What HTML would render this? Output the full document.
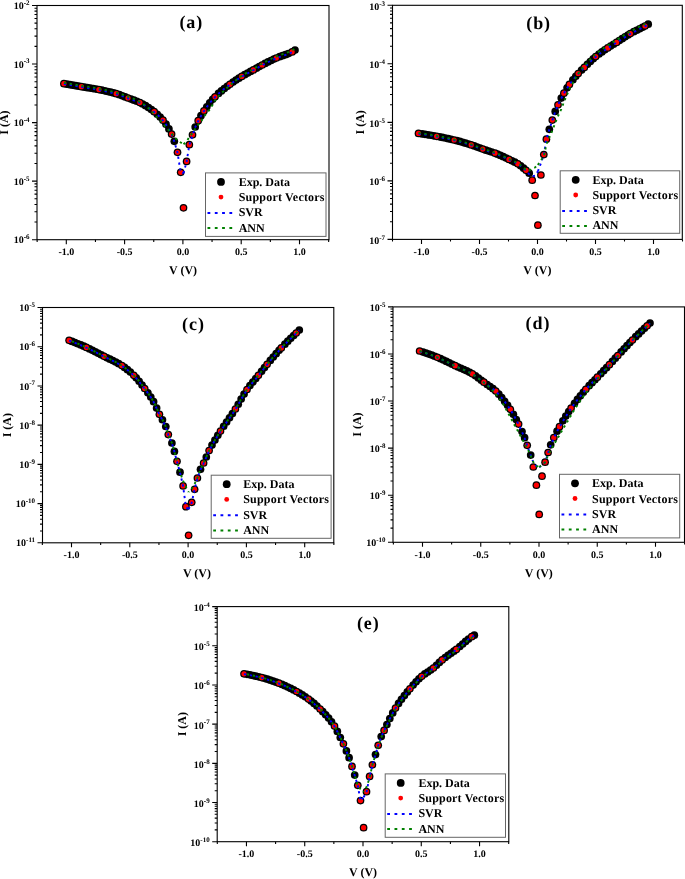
<!DOCTYPE html>
<html><head><meta charset="utf-8"><style>
html,body{margin:0;padding:0;background:#fff;}
svg{display:block;will-change:transform;}
text{font-family:"Liberation Serif", serif;font-weight:bold;fill:#000;text-rendering:geometricPrecision;}
</style></head><body>
<svg width="685" height="879" viewBox="0 0 685 879">
<rect width="685" height="879" fill="#fff"/>
<g><g fill="#000"><circle cx="63.9" cy="83.7" r="3.85"/><circle cx="66.88" cy="84.22" r="3.85"/><circle cx="69.8" cy="84.72" r="3.85"/><circle cx="72.71" cy="85.22" r="3.85"/><circle cx="75.63" cy="85.72" r="3.85"/><circle cx="78.54" cy="86.22" r="3.85"/><circle cx="81.4" cy="86.7" r="3.85"/><circle cx="84.37" cy="87.19" r="3.85"/><circle cx="87.29" cy="87.64" r="3.85"/><circle cx="90.2" cy="88.1" r="3.85"/><circle cx="93.12" cy="88.57" r="3.85"/><circle cx="96.03" cy="89.07" r="3.85"/><circle cx="98.9" cy="89.6" r="3.85"/><circle cx="101.86" cy="90.19" r="3.85"/><circle cx="104.78" cy="90.81" r="3.85"/><circle cx="107.69" cy="91.48" r="3.85"/><circle cx="110.61" cy="92.18" r="3.85"/><circle cx="113.52" cy="92.95" r="3.85"/><circle cx="116.2" cy="93.7" r="3.85"/><circle cx="119.35" cy="94.72" r="3.85"/><circle cx="122.27" cy="95.79" r="3.85"/><circle cx="125.18" cy="96.92" r="3.85"/><circle cx="128" cy="98" r="3.85"/><circle cx="131.01" cy="99.09" r="3.85"/><circle cx="133.93" cy="100.14" r="3.85"/><circle cx="136.84" cy="101.26" r="3.85"/><circle cx="139.9" cy="102.6" r="3.85"/><circle cx="142.67" cy="104.02" r="3.85"/><circle cx="145.59" cy="105.7" r="3.85"/><circle cx="148.5" cy="107.56" r="3.85"/><circle cx="151.42" cy="109.6" r="3.85"/><circle cx="154.2" cy="111.7" r="3.85"/><circle cx="157.25" cy="114.23" r="3.85"/><circle cx="160.16" cy="117.03" r="3.85"/><circle cx="163" cy="120.2" r="3.85"/><circle cx="165.99" cy="124.19" r="3.85"/><circle cx="168.91" cy="128.9" r="3.85"/><circle cx="171.6" cy="134.1" r="3.85"/><circle cx="174.3" cy="141.3" r="3.85"/><circle cx="177.5" cy="152.3" r="3.85"/><circle cx="180.7" cy="172.3" r="3.85"/><circle cx="183.5" cy="207.8" r="3.85"/><circle cx="186.6" cy="161.4" r="3.85"/><circle cx="189.3" cy="144.7" r="3.85"/><circle cx="192.5" cy="134.8" r="3.85"/><circle cx="195.2" cy="127" r="3.85"/><circle cx="198.2" cy="120.7" r="3.85"/><circle cx="200.97" cy="115.63" r="3.85"/><circle cx="203.9" cy="110.9" r="3.85"/><circle cx="206.8" cy="106.73" r="3.85"/><circle cx="209.72" cy="102.86" r="3.85"/><circle cx="212.63" cy="99.36" r="3.85"/><circle cx="215" cy="96.8" r="3.85"/><circle cx="218.46" cy="93.46" r="3.85"/><circle cx="221.38" cy="90.92" r="3.85"/><circle cx="224.29" cy="88.55" r="3.85"/><circle cx="227.21" cy="86.31" r="3.85"/><circle cx="229.9" cy="84.3" r="3.85"/><circle cx="233.04" cy="82.04" r="3.85"/><circle cx="235.95" cy="80.05" r="3.85"/><circle cx="238.87" cy="78.16" r="3.85"/><circle cx="241.7" cy="76.4" r="3.85"/><circle cx="244.7" cy="74.65" r="3.85"/><circle cx="247.61" cy="73.05" r="3.85"/><circle cx="250.53" cy="71.47" r="3.85"/><circle cx="253.4" cy="69.9" r="3.85"/><circle cx="256.36" cy="68.22" r="3.85"/><circle cx="259.27" cy="66.55" r="3.85"/><circle cx="262.1" cy="65" r="3.85"/><circle cx="265.1" cy="63.42" r="3.85"/><circle cx="268.02" cy="61.93" r="3.85"/><circle cx="270.93" cy="60.48" r="3.85"/><circle cx="273.85" cy="59.1" r="3.85"/><circle cx="276.3" cy="58" r="3.85"/><circle cx="279.68" cy="56.66" r="3.85"/><circle cx="282.59" cy="55.64" r="3.85"/><circle cx="285.51" cy="54.63" r="3.85"/><circle cx="288.42" cy="53.54" r="3.85"/><circle cx="292.1" cy="51.9" r="3.85"/><circle cx="295" cy="50.1" r="3.85"/></g>
<g fill="#f00"><circle cx="63.9" cy="83.7" r="2.6"/><circle cx="81.4" cy="86.7" r="2.6"/><circle cx="98.9" cy="89.6" r="2.6"/><circle cx="116.2" cy="93.7" r="2.6"/><circle cx="128" cy="98" r="2.6"/><circle cx="139.9" cy="102.6" r="2.6"/><circle cx="154.2" cy="111.7" r="2.6"/><circle cx="163" cy="120.2" r="2.6"/><circle cx="171.6" cy="134.1" r="2.6"/><circle cx="177.5" cy="152.3" r="2.6"/><circle cx="180.7" cy="172.3" r="2.6"/><circle cx="183.5" cy="207.8" r="2.6"/><circle cx="186.6" cy="161.4" r="2.6"/><circle cx="189.3" cy="144.7" r="2.6"/><circle cx="192.5" cy="134.8" r="2.6"/><circle cx="198.2" cy="120.7" r="2.6"/><circle cx="203.9" cy="110.9" r="2.6"/><circle cx="215" cy="96.8" r="2.6"/><circle cx="229.9" cy="84.3" r="2.6"/><circle cx="241.7" cy="76.4" r="2.6"/><circle cx="253.4" cy="69.9" r="2.6"/><circle cx="262.1" cy="65" r="2.6"/><circle cx="276.3" cy="58" r="2.6"/><circle cx="292.1" cy="51.9" r="2.6"/></g>
<path d="M63.9 84 L66.88 84.52 L69.8 85.02 L72.71 85.52 L75.63 86.02 L78.54 86.52 L81.4 87 L84.37 87.49 L87.29 87.94 L90.2 88.4 L93.12 88.87 L96.03 89.37 L98.9 89.9 L101.86 90.49 L104.78 91.11 L107.69 91.78 L110.61 92.48 L113.52 93.25 L116.2 94 L119.35 95.02 L122.27 96.09 L125.18 97.22 L128 98.3 L131.01 99.39 L133.93 100.44 L136.84 101.56 L139.9 102.9 L142.67 104.32 L145.59 106 L148.5 107.86 L151.42 109.9 L154.2 112 L157.25 114.53 L160.16 117.33 L163 120.5 L165.99 124.49 L168.91 129.2 L171.6 134.4 L174.3 141.6 L177.5 152.6 L180.7 172.6 L183.5 173.3" fill="none" stroke="#00f" stroke-width="1.9" stroke-dasharray="2.3 3.6" stroke-dashoffset="0"/>
<path d="M183.5 173.3 L186.6 161.7 L189.3 145 L192.5 135.1 L195.2 127.3 L198.2 121 L200.97 115.93 L203.9 111.2 L206.8 107.03 L209.72 103.16 L212.63 99.66 L215 97.1 L218.46 93.76 L221.38 91.22 L224.29 88.85 L227.21 86.61 L229.9 84.6 L233.04 82.34 L235.95 80.35 L238.87 78.46 L241.7 76.7 L244.7 74.95 L247.61 73.35 L250.53 71.77 L253.4 70.2 L256.36 68.52 L259.27 66.85 L262.1 65.3 L265.1 63.72 L268.02 62.23 L270.93 60.78 L273.85 59.4 L276.3 58.3 L279.68 56.96 L282.59 55.94 L285.51 54.93 L288.42 53.84 L292.1 52.2 L295 50.4" fill="none" stroke="#00f" stroke-width="1.9" stroke-dasharray="2.3 3.6" stroke-dashoffset="0"/>
<path d="M63.9 82.7 L66.88 83.22 L69.8 83.72 L72.71 84.22 L75.63 84.72 L78.54 85.22 L81.4 85.7 L84.37 86.19 L87.29 86.64 L90.2 87.1 L93.12 87.57 L96.03 88.07 L98.9 88.6 L101.86 89.19 L104.78 89.81 L107.69 90.48 L110.61 91.18 L113.52 91.93 L116.2 92.59 L119.35 93.52 L122.27 94.5 L125.18 95.54 L128 96.53 L131.01 97.53 L133.93 98.76 L136.84 100.25 L139.9 101.88 L142.67 103.55 L145.59 105.75 L148.5 108.26 L151.42 111.13 L154.2 114.06 L157.25 117.4 L160.16 120.42 L163 123.64 L165.99 127.36 L168.91 130.45 L171.6 133.5 L174.3 137 L177.5 140.5 L180.7 142.5 L183.5 144.2" fill="none" stroke="#008000" stroke-width="1.9" stroke-dasharray="2.3 3.6" stroke-dashoffset="0"/>
<path d="M183.5 144.2 L186.6 141.5 L189.3 137 L192.5 133 L195.2 128.8 L198.2 124.84 L200.97 121.77 L203.9 116.66 L206.8 113 L209.72 109.58 L212.63 104.66 L215 100.38 L218.46 96.23 L221.38 93.22 L224.29 90.39 L227.21 87.68 L229.9 85.22 L233.04 82.59 L235.95 80.22 L238.87 77.96 L241.7 75.88 L244.7 74 L247.61 72.27 L250.53 70.57 L253.4 68.88 L256.36 67.07 L259.27 65.27 L262.1 63.6 L265.1 61.92 L268.02 60.43 L270.93 58.98 L273.85 57.6 L276.3 56.5 L279.68 55.16 L282.59 54.14 L285.51 53.13 L288.42 52.04 L292.1 50.4 L295 48.6" fill="none" stroke="#008000" stroke-width="1.9" stroke-dasharray="2.3 3.6" stroke-dashoffset="0"/>
<rect x="37" y="5.5" width="292" height="234.2" fill="none" stroke="#000" stroke-width="1.1"/>
<path d="M32 5.5H37M34.5 46.42H37M34.5 36.11H37M34.5 28.8H37M34.5 23.13H37M34.5 18.49H37M34.5 14.57H37M34.5 11.17H37M34.5 8.18H37M32 64.05H37M34.5 104.97H37M34.5 94.66H37M34.5 87.35H37M34.5 81.68H37M34.5 77.04H37M34.5 73.12H37M34.5 69.72H37M34.5 66.73H37M32 122.6H37M34.5 163.52H37M34.5 153.21H37M34.5 145.9H37M34.5 140.23H37M34.5 135.59H37M34.5 131.67H37M34.5 128.27H37M34.5 125.28H37M32 181.15H37M34.5 222.07H37M34.5 211.76H37M34.5 204.45H37M34.5 198.78H37M34.5 194.14H37M34.5 190.22H37M34.5 186.82H37M34.5 183.83H37M32 239.7H37M37.15 239.7V241.9M66.3 239.7V244.2M95.45 239.7V241.9M124.6 239.7V244.2M153.75 239.7V241.9M182.9 239.7V244.2M212.05 239.7V241.9M241.2 239.7V244.2M270.35 239.7V241.9M299.5 239.7V244.2M328.65 239.7V241.9" stroke="#000" stroke-width="1.1" fill="none"/>
<g font-size="10.0"><text x="66.3" y="255.1" text-anchor="middle">-1.0</text><text x="124.6" y="255.1" text-anchor="middle">-0.5</text><text x="182.9" y="255.1" text-anchor="middle">0.0</text><text x="241.2" y="255.1" text-anchor="middle">0.5</text><text x="299.5" y="255.1" text-anchor="middle">1.0</text><text x="29.5" y="9" text-anchor="end">10<tspan font-size="7.0" dy="-4.1">-2</tspan></text><text x="29.5" y="67.55" text-anchor="end">10<tspan font-size="7.0" dy="-4.1">-3</tspan></text><text x="29.5" y="126.1" text-anchor="end">10<tspan font-size="7.0" dy="-4.1">-4</tspan></text><text x="29.5" y="184.65" text-anchor="end">10<tspan font-size="7.0" dy="-4.1">-5</tspan></text><text x="29.5" y="243.2" text-anchor="end">10<tspan font-size="7.0" dy="-4.1">-6</tspan></text></g>
<text x="183" y="274.2" text-anchor="middle" font-size="12">V (V)</text>
<text transform="translate(8.2 122.6) rotate(-90)" text-anchor="middle" font-size="12">I (A)</text>
<text x="190.85" y="27.6" font-size="18" text-anchor="middle">(<tspan dx="0.9">a</tspan><tspan dx="0.9">)</tspan></text>
<g font-size="12"><rect x="205.5" y="172.9" width="120.5" height="63.5" fill="#fff" stroke="#666" stroke-width="1"/><circle cx="221" cy="181.9" r="3.9" fill="#000"/><circle cx="221" cy="197.1" r="2.4" fill="#f00"/><path d="M207.5 213H232.5" stroke="#00f" stroke-width="2" stroke-dasharray="2.8 4.5"/><path d="M207.5 228.1H232.5" stroke="#008000" stroke-width="2" stroke-dasharray="2.8 4.5"/><text x="238.7" y="185.9">Exp. Data</text><text x="238.7" y="201.1" letter-spacing="0.2">Support Vectors</text><text x="238.7" y="216.3">SVR</text><text x="238.7" y="231.5">ANN</text></g></g>
<g><g fill="#000"><circle cx="418.5" cy="133.4" r="3.85"/><circle cx="422.08" cy="133.9" r="3.85"/><circle cx="424.98" cy="134.34" r="3.85"/><circle cx="427.88" cy="134.79" r="3.85"/><circle cx="430.78" cy="135.27" r="3.85"/><circle cx="433.68" cy="135.78" r="3.85"/><circle cx="436.6" cy="136.3" r="3.85"/><circle cx="439.48" cy="136.84" r="3.85"/><circle cx="442.38" cy="137.41" r="3.85"/><circle cx="445.28" cy="138" r="3.85"/><circle cx="448.18" cy="138.63" r="3.85"/><circle cx="451.08" cy="139.28" r="3.85"/><circle cx="454.1" cy="140" r="3.85"/><circle cx="456.88" cy="140.7" r="3.85"/><circle cx="459.78" cy="141.47" r="3.85"/><circle cx="462.68" cy="142.29" r="3.85"/><circle cx="465.58" cy="143.15" r="3.85"/><circle cx="468.48" cy="144.04" r="3.85"/><circle cx="471.2" cy="144.9" r="3.85"/><circle cx="474.28" cy="145.96" r="3.85"/><circle cx="477.18" cy="147.03" r="3.85"/><circle cx="480.08" cy="148.12" r="3.85"/><circle cx="482.8" cy="149.1" r="3.85"/><circle cx="485.88" cy="150.13" r="3.85"/><circle cx="488.78" cy="151.06" r="3.85"/><circle cx="491.68" cy="152.01" r="3.85"/><circle cx="495" cy="153.2" r="3.85"/><circle cx="497.48" cy="154.18" r="3.85"/><circle cx="500.38" cy="155.42" r="3.85"/><circle cx="503.28" cy="156.72" r="3.85"/><circle cx="506.18" cy="158.07" r="3.85"/><circle cx="509" cy="159.4" r="3.85"/><circle cx="511.98" cy="160.78" r="3.85"/><circle cx="514.88" cy="162.18" r="3.85"/><circle cx="517.8" cy="163.8" r="3.85"/><circle cx="520.68" cy="165.79" r="3.85"/><circle cx="523.58" cy="168.14" r="3.85"/><circle cx="526.1" cy="170.3" r="3.85"/><circle cx="529.2" cy="173.2" r="3.85"/><circle cx="532.2" cy="180.2" r="3.85"/><circle cx="535" cy="195.5" r="3.85"/><circle cx="537.9" cy="225.2" r="3.85"/><circle cx="540.9" cy="175" r="3.85"/><circle cx="543.8" cy="154.6" r="3.85"/><circle cx="546.4" cy="139.2" r="3.85"/><circle cx="549.3" cy="129.3" r="3.85"/><circle cx="552.3" cy="120.1" r="3.85"/><circle cx="555.2" cy="111.4" r="3.85"/><circle cx="558" cy="104.8" r="3.85"/><circle cx="561.28" cy="98.06" r="3.85"/><circle cx="563.9" cy="93.2" r="3.85"/><circle cx="567.08" cy="87.87" r="3.85"/><circle cx="569.4" cy="84.4" r="3.85"/><circle cx="572.88" cy="79.76" r="3.85"/><circle cx="575.78" cy="76.24" r="3.85"/><circle cx="578.2" cy="73.5" r="3.85"/><circle cx="581.58" cy="70.03" r="3.85"/><circle cx="584.3" cy="67.4" r="3.85"/><circle cx="587.38" cy="64.36" r="3.85"/><circle cx="590.28" cy="61.51" r="3.85"/><circle cx="593.18" cy="58.78" r="3.85"/><circle cx="595.7" cy="56.6" r="3.85"/><circle cx="598.98" cy="54.02" r="3.85"/><circle cx="601.88" cy="51.89" r="3.85"/><circle cx="604.78" cy="49.87" r="3.85"/><circle cx="607.7" cy="47.9" r="3.85"/><circle cx="610.58" cy="46.05" r="3.85"/><circle cx="613.48" cy="44.27" r="3.85"/><circle cx="616.5" cy="42.4" r="3.85"/><circle cx="619.28" cy="40.61" r="3.85"/><circle cx="622.18" cy="38.7" r="3.85"/><circle cx="625.08" cy="36.8" r="3.85"/><circle cx="627.98" cy="34.98" r="3.85"/><circle cx="630.3" cy="33.6" r="3.85"/><circle cx="633.78" cy="31.71" r="3.85"/><circle cx="636.68" cy="30.23" r="3.85"/><circle cx="639.58" cy="28.79" r="3.85"/><circle cx="642.48" cy="27.33" r="3.85"/><circle cx="645" cy="26" r="3.85"/><circle cx="648.2" cy="24.2" r="3.85"/></g>
<g fill="#f00"><circle cx="418.5" cy="133.4" r="2.6"/><circle cx="436.6" cy="136.3" r="2.6"/><circle cx="454.1" cy="140" r="2.6"/><circle cx="471.2" cy="144.9" r="2.6"/><circle cx="482.8" cy="149.1" r="2.6"/><circle cx="495" cy="153.2" r="2.6"/><circle cx="509" cy="159.4" r="2.6"/><circle cx="517.8" cy="163.8" r="2.6"/><circle cx="526.1" cy="170.3" r="2.6"/><circle cx="532.2" cy="180.2" r="2.6"/><circle cx="535" cy="195.5" r="2.6"/><circle cx="537.9" cy="225.2" r="2.6"/><circle cx="540.9" cy="175" r="2.6"/><circle cx="543.8" cy="154.6" r="2.6"/><circle cx="546.4" cy="139.2" r="2.6"/><circle cx="552.3" cy="120.1" r="2.6"/><circle cx="558" cy="104.8" r="2.6"/><circle cx="563.9" cy="93.2" r="2.6"/><circle cx="569.4" cy="84.4" r="2.6"/><circle cx="578.2" cy="73.5" r="2.6"/><circle cx="584.3" cy="67.4" r="2.6"/><circle cx="595.7" cy="56.6" r="2.6"/><circle cx="607.7" cy="47.9" r="2.6"/><circle cx="616.5" cy="42.4" r="2.6"/><circle cx="630.3" cy="33.6" r="2.6"/><circle cx="645" cy="26" r="2.6"/></g>
<path d="M418.5 133.7 L422.08 134.2 L424.98 134.64 L427.88 135.09 L430.78 135.57 L433.68 136.08 L436.6 136.6 L439.48 137.14 L442.38 137.71 L445.28 138.3 L448.18 138.93 L451.08 139.58 L454.1 140.3 L456.88 141 L459.78 141.77 L462.68 142.59 L465.58 143.45 L468.48 144.34 L471.2 145.2 L474.28 146.26 L477.18 147.33 L480.08 148.42 L482.8 149.4 L485.88 150.43 L488.78 151.36 L491.68 152.31 L495 153.5 L497.48 154.48 L500.38 155.72 L503.28 157.02 L506.18 158.37 L509 159.7 L511.98 161.08 L514.88 162.48 L517.8 164.1 L520.68 166.09 L523.58 168.44 L526.1 170.6 L529.2 174.3 L532.2 176.3 L535 175.8 L537.9 171.3" fill="none" stroke="#00f" stroke-width="1.9" stroke-dasharray="2.3 3.6" stroke-dashoffset="0"/>
<path d="M537.9 171.3 L540.9 163.3 L543.8 154.9 L546.4 139.5 L549.3 129.6 L552.3 120.4 L555.2 111.7 L558 105.1 L561.28 98.36 L563.9 93.5 L567.08 88.17 L569.4 84.7 L572.88 80.06 L575.78 76.54 L578.2 73.8 L581.58 70.33 L584.3 67.7 L587.38 64.66 L590.28 61.81 L593.18 59.08 L595.7 56.9 L598.98 54.32 L601.88 52.19 L604.78 50.17 L607.7 48.2 L610.58 46.35 L613.48 44.57 L616.5 42.7 L619.28 40.91 L622.18 39 L625.08 37.1 L627.98 35.28 L630.3 33.9 L633.78 32.01 L636.68 30.53 L639.58 29.09 L642.48 27.63 L645 26.3 L648.2 24.5" fill="none" stroke="#00f" stroke-width="1.9" stroke-dasharray="2.3 3.6" stroke-dashoffset="0"/>
<path d="M418.5 132.9 L422.08 133.4 L424.98 133.84 L427.88 134.29 L430.78 134.77 L433.68 135.28 L436.6 135.8 L439.48 136.34 L442.38 136.91 L445.28 137.5 L448.18 138.13 L451.08 138.78 L454.1 139.5 L456.88 140.2 L459.78 140.97 L462.68 141.79 L465.58 142.65 L468.48 143.54 L471.2 144.4 L474.28 145.46 L477.18 146.53 L480.08 147.62 L482.8 148.6 L485.88 149.63 L488.78 150.56 L491.68 151.51 L495 152.7 L497.48 153.68 L500.38 154.92 L503.28 156.22 L506.18 157.57 L509 158.9 L511.98 160.28 L514.88 161.68 L517.8 163.3 L520.68 165.29 L523.58 167.64 L526.1 169.85 L529.2 170.5 L532.2 168.5 L535 167.5 L537.9 165" fill="none" stroke="#008000" stroke-width="1.9" stroke-dasharray="2.3 3.6" stroke-dashoffset="0"/>
<path d="M537.9 165 L540.9 160 L543.8 157.1 L546.4 144.2 L549.3 137.7 L552.3 130.67 L555.2 122.91 L558 116.22 L561.28 109.13 L563.9 102.2 L567.08 94.54 L569.4 88.89 L572.88 82.69 L575.78 77.74 L578.2 73.75 L581.58 69.28 L584.3 65.85 L587.38 62.56 L590.28 59.46 L593.18 56.48 L595.7 54.11 L598.98 51.55 L601.88 49.45 L604.78 47.46 L607.7 45.51 L610.58 43.69 L613.48 41.93 L616.5 40.1 L619.28 38.33 L622.18 36.45 L625.08 34.58 L627.98 32.78 L630.3 31.43 L633.78 29.57 L636.68 28.12 L639.58 26.7 L642.48 25.27 L645 23.97 L648.2 22.19" fill="none" stroke="#008000" stroke-width="1.9" stroke-dasharray="2.3 3.6" stroke-dashoffset="0"/>
<rect x="392.5" y="5.3" width="289.8" height="234.1" fill="none" stroke="#000" stroke-width="1.1"/>
<path d="M387.5 5.3H392.5M390 46.21H392.5M390 35.9H392.5M390 28.59H392.5M390 22.92H392.5M390 18.28H392.5M390 14.37H392.5M390 10.97H392.5M390 7.98H392.5M387.5 63.82H392.5M390 104.73H392.5M390 94.43H392.5M390 87.11H392.5M390 81.44H392.5M390 76.81H392.5M390 72.89H392.5M390 69.5H392.5M390 66.5H392.5M387.5 122.35H392.5M390 163.26H392.5M390 152.95H392.5M390 145.64H392.5M390 139.97H392.5M390 135.33H392.5M390 131.42H392.5M390 128.02H392.5M390 125.03H392.5M387.5 180.88H392.5M390 221.78H392.5M390 211.48H392.5M390 204.16H392.5M390 198.49H392.5M390 193.86H392.5M390 189.94H392.5M390 186.55H392.5M390 183.55H392.5M387.5 239.4H392.5M392.5 239.4V241.6M421.5 239.4V243.9M450.5 239.4V241.6M479.5 239.4V243.9M508.5 239.4V241.6M537.5 239.4V243.9M566.5 239.4V241.6M595.5 239.4V243.9M624.5 239.4V241.6M653.5 239.4V243.9M682.5 239.4V241.6" stroke="#000" stroke-width="1.1" fill="none"/>
<g font-size="10.0"><text x="421.5" y="254.8" text-anchor="middle">-1.0</text><text x="479.5" y="254.8" text-anchor="middle">-0.5</text><text x="537.5" y="254.8" text-anchor="middle">0.0</text><text x="595.5" y="254.8" text-anchor="middle">0.5</text><text x="653.5" y="254.8" text-anchor="middle">1.0</text><text x="385" y="9.6" text-anchor="end">10<tspan font-size="7.0" dy="-4.1">-3</tspan></text><text x="385" y="68.12" text-anchor="end">10<tspan font-size="7.0" dy="-4.1">-4</tspan></text><text x="385" y="126.65" text-anchor="end">10<tspan font-size="7.0" dy="-4.1">-5</tspan></text><text x="385" y="185.18" text-anchor="end">10<tspan font-size="7.0" dy="-4.1">-6</tspan></text><text x="385" y="243.7" text-anchor="end">10<tspan font-size="7.0" dy="-4.1">-7</tspan></text></g>
<text x="537.4" y="273.9" text-anchor="middle" font-size="12">V (V)</text>
<text transform="translate(364.3 122.35) rotate(-90)" text-anchor="middle" font-size="12">I (A)</text>
<text x="538.2" y="29" font-size="18" text-anchor="middle">(<tspan dx="0.9">b</tspan><tspan dx="0.9">)</tspan></text>
<g font-size="12"><rect x="560.2" y="170.8" width="119.5" height="62.5" fill="#fff" stroke="#666" stroke-width="1"/><circle cx="575.7" cy="179.8" r="3.9" fill="#000"/><circle cx="575.7" cy="195" r="2.4" fill="#f00"/><path d="M562.2 210.9H587.2" stroke="#00f" stroke-width="2" stroke-dasharray="2.8 4.5"/><path d="M562.2 226H587.2" stroke="#008000" stroke-width="2" stroke-dasharray="2.8 4.5"/><text x="592.4" y="183.8">Exp. Data</text><text x="592.4" y="199" letter-spacing="0.2">Support Vectors</text><text x="592.4" y="214.2">SVR</text><text x="592.4" y="229.4">ANN</text></g></g>
<g><g fill="#000"><circle cx="69.1" cy="340.3" r="3.85"/><circle cx="72.08" cy="341.41" r="3.85"/><circle cx="75" cy="342.55" r="3.85"/><circle cx="77.91" cy="343.73" r="3.85"/><circle cx="80.83" cy="344.95" r="3.85"/><circle cx="83.74" cy="346.22" r="3.85"/><circle cx="86.4" cy="347.4" r="3.85"/><circle cx="89.57" cy="348.88" r="3.85"/><circle cx="92.49" cy="350.31" r="3.85"/><circle cx="95.4" cy="351.79" r="3.85"/><circle cx="98.32" cy="353.3" r="3.85"/><circle cx="101.23" cy="354.82" r="3.85"/><circle cx="104.1" cy="356.3" r="3.85"/><circle cx="107.06" cy="357.78" r="3.85"/><circle cx="109.98" cy="359.18" r="3.85"/><circle cx="112.89" cy="360.6" r="3.85"/><circle cx="115.81" cy="362.08" r="3.85"/><circle cx="118.72" cy="363.67" r="3.85"/><circle cx="121.9" cy="365.6" r="3.85"/><circle cx="124.55" cy="367.42" r="3.85"/><circle cx="127.47" cy="369.65" r="3.85"/><circle cx="130.38" cy="372.12" r="3.85"/><circle cx="133.8" cy="375.3" r="3.85"/><circle cx="136.21" cy="377.83" r="3.85"/><circle cx="139.13" cy="381.26" r="3.85"/><circle cx="142.04" cy="384.98" r="3.85"/><circle cx="144.7" cy="388.5" r="3.85"/><circle cx="147.87" cy="392.79" r="3.85"/><circle cx="150.79" cy="397.04" r="3.85"/><circle cx="153.6" cy="401.7" r="3.85"/><circle cx="156.62" cy="408.09" r="3.85"/><circle cx="159.4" cy="414.3" r="3.85"/><circle cx="162.45" cy="419.77" r="3.85"/><circle cx="165.8" cy="426.5" r="3.85"/><circle cx="168.3" cy="434.6" r="3.85"/><circle cx="171.9" cy="443" r="3.85"/><circle cx="174.4" cy="451.4" r="3.85"/><circle cx="177" cy="461.3" r="3.85"/><circle cx="180" cy="472.2" r="3.85"/><circle cx="183.1" cy="485.9" r="3.85"/><circle cx="185.9" cy="506.7" r="3.85"/><circle cx="188.6" cy="535.3" r="3.85"/><circle cx="191.7" cy="502.3" r="3.85"/><circle cx="194.6" cy="489.3" r="3.85"/><circle cx="197.4" cy="478" r="3.85"/><circle cx="200.5" cy="469.3" r="3.85"/><circle cx="203.6" cy="463" r="3.85"/><circle cx="206.3" cy="457" r="3.85"/><circle cx="209.1" cy="450.6" r="3.85"/><circle cx="212" cy="445.08" r="3.85"/><circle cx="214.92" cy="440.05" r="3.85"/><circle cx="217.83" cy="435.33" r="3.85"/><circle cx="220.5" cy="431.1" r="3.85"/><circle cx="223.66" cy="426.24" r="3.85"/><circle cx="226.58" cy="421.99" r="3.85"/><circle cx="229.49" cy="417.81" r="3.85"/><circle cx="232.41" cy="413.57" r="3.85"/><circle cx="235.4" cy="409" r="3.85"/><circle cx="238.24" cy="404.26" r="3.85"/><circle cx="241.15" cy="399.12" r="3.85"/><circle cx="244.07" cy="394.07" r="3.85"/><circle cx="247" cy="389.5" r="3.85"/><circle cx="249.9" cy="385.6" r="3.85"/><circle cx="252.81" cy="382.02" r="3.85"/><circle cx="255.73" cy="378.55" r="3.85"/><circle cx="258.4" cy="375.3" r="3.85"/><circle cx="261.56" cy="371.28" r="3.85"/><circle cx="264.47" cy="367.56" r="3.85"/><circle cx="267.1" cy="364.3" r="3.85"/><circle cx="270.3" cy="360.45" r="3.85"/><circle cx="273.22" cy="357" r="3.85"/><circle cx="276.13" cy="353.63" r="3.85"/><circle cx="279.05" cy="350.35" r="3.85"/><circle cx="281.3" cy="347.9" r="3.85"/><circle cx="284.88" cy="344.15" r="3.85"/><circle cx="287.79" cy="341.19" r="3.85"/><circle cx="290.71" cy="338.31" r="3.85"/><circle cx="293.62" cy="335.48" r="3.85"/><circle cx="296.2" cy="333" r="3.85"/><circle cx="299.3" cy="330.1" r="3.85"/></g>
<g fill="#f00"><circle cx="69.1" cy="340.3" r="2.6"/><circle cx="86.4" cy="347.4" r="2.6"/><circle cx="104.1" cy="356.3" r="2.6"/><circle cx="121.9" cy="365.6" r="2.6"/><circle cx="133.8" cy="375.3" r="2.6"/><circle cx="144.7" cy="388.5" r="2.6"/><circle cx="159.4" cy="414.3" r="2.6"/><circle cx="168.3" cy="434.6" r="2.6"/><circle cx="177" cy="461.3" r="2.6"/><circle cx="183.1" cy="485.9" r="2.6"/><circle cx="185.9" cy="506.7" r="2.6"/><circle cx="188.6" cy="535.3" r="2.6"/><circle cx="191.7" cy="502.3" r="2.6"/><circle cx="194.6" cy="489.3" r="2.6"/><circle cx="197.4" cy="478" r="2.6"/><circle cx="203.6" cy="463" r="2.6"/><circle cx="209.1" cy="450.6" r="2.6"/><circle cx="220.5" cy="431.1" r="2.6"/><circle cx="235.4" cy="409" r="2.6"/><circle cx="247" cy="389.5" r="2.6"/><circle cx="258.4" cy="375.3" r="2.6"/><circle cx="267.1" cy="364.3" r="2.6"/><circle cx="281.3" cy="347.9" r="2.6"/><circle cx="296.2" cy="333" r="2.6"/></g>
<path d="M69.1 340.6 L72.08 341.71 L75 342.85 L77.91 344.03 L80.83 345.25 L83.74 346.52 L86.4 347.7 L89.57 349.18 L92.49 350.61 L95.4 352.09 L98.32 353.6 L101.23 355.12 L104.1 356.6 L107.06 358.08 L109.98 359.48 L112.89 360.9 L115.81 362.38 L118.72 363.97 L121.9 365.9 L124.55 367.72 L127.47 369.95 L130.38 372.42 L133.8 375.6 L136.21 378.13 L139.13 381.56 L142.04 385.28 L144.7 388.8 L147.87 393.09 L150.79 397.34 L153.6 402 L156.62 408.39 L159.4 414.6 L162.45 420.07 L165.8 426.8 L168.3 434.9 L171.9 443.3 L174.4 451.7 L177 461.6 L180 472.5 L183.1 486.2 L185.9 507 L188.6 509.3" fill="none" stroke="#00f" stroke-width="1.9" stroke-dasharray="2.3 3.6" stroke-dashoffset="0"/>
<path d="M188.6 509.3 L191.7 502.6 L194.6 489.6 L197.4 478.3 L200.5 469.6 L203.6 463.3 L206.3 457.3 L209.1 450.9 L212 445.38 L214.92 440.35 L217.83 435.63 L220.5 431.4 L223.66 426.54 L226.58 422.29 L229.49 418.11 L232.41 413.87 L235.4 409.3 L238.24 404.56 L241.15 399.42 L244.07 394.37 L247 389.8 L249.9 385.9 L252.81 382.32 L255.73 378.85 L258.4 375.6 L261.56 371.58 L264.47 367.86 L267.1 364.6 L270.3 360.75 L273.22 357.3 L276.13 353.93 L279.05 350.65 L281.3 348.2 L284.88 344.45 L287.79 341.49 L290.71 338.61 L293.62 335.78 L296.2 333.3 L299.3 330.4" fill="none" stroke="#00f" stroke-width="1.9" stroke-dasharray="2.3 3.6" stroke-dashoffset="0"/>
<path d="M69.1 340.3 L72.08 341.41 L75 342.55 L77.91 343.73 L80.83 344.95 L83.74 346.22 L86.4 347.4 L89.57 348.88 L92.49 350.31 L95.4 351.79 L98.32 353.3 L101.23 354.82 L104.1 356.3 L107.06 357.78 L109.98 359.18 L112.89 360.6 L115.81 362.08 L118.72 363.67 L121.9 365.6 L124.55 367.42 L127.47 369.65 L130.38 372.12 L133.8 375.3 L136.21 377.83 L139.13 381.26 L142.04 384.98 L144.7 388.5 L147.87 392.79 L150.79 397.04 L153.6 401.7 L156.62 408.09 L159.4 414.3 L162.45 419.77 L165.8 426.5 L168.3 434.6 L171.9 443 L174.4 451.4 L177 461.3 L180 472.2 L183.1 481 L185.9 487 L188.6 492" fill="none" stroke="#008000" stroke-width="1.9" stroke-dasharray="2.3 3.6" stroke-dashoffset="2.95"/>
<path d="M188.6 492 L191.7 489 L194.6 484 L197.4 478 L200.5 469.3 L203.6 463 L206.3 457 L209.1 450.6 L212 445.08 L214.92 440.05 L217.83 435.33 L220.5 431.1 L223.66 426.24 L226.58 421.99 L229.49 417.81 L232.41 413.57 L235.4 409 L238.24 404.26 L241.15 399.12 L244.07 394.07 L247 389.5 L249.9 385.6 L252.81 382.02 L255.73 378.55 L258.4 375.3 L261.56 371.28 L264.47 367.56 L267.1 364.3 L270.3 360.45 L273.22 357 L276.13 353.63 L279.05 350.35 L281.3 347.9 L284.88 344.15 L287.79 341.19 L290.71 338.31 L293.62 335.48 L296.2 333 L299.3 330.1" fill="none" stroke="#008000" stroke-width="1.9" stroke-dasharray="2.3 3.6" stroke-dashoffset="1.8"/>
<rect x="42.5" y="307.5" width="291.3" height="235.3" fill="none" stroke="#000" stroke-width="1.1"/>
<path d="M37.5 307.5H42.5M40 334.91H42.5M40 328.01H42.5M40 323.11H42.5M40 319.31H42.5M40 316.2H42.5M40 313.57H42.5M40 311.3H42.5M40 309.29H42.5M37.5 346.72H42.5M40 374.13H42.5M40 367.22H42.5M40 362.32H42.5M40 358.52H42.5M40 355.42H42.5M40 352.79H42.5M40 350.52H42.5M40 348.51H42.5M37.5 385.93H42.5M40 413.34H42.5M40 406.44H42.5M40 401.54H42.5M40 397.74H42.5M40 394.63H42.5M40 392.01H42.5M40 389.73H42.5M40 387.73H42.5M37.5 425.15H42.5M40 452.56H42.5M40 445.66H42.5M40 440.76H42.5M40 436.96H42.5M40 433.85H42.5M40 431.22H42.5M40 428.95H42.5M40 426.94H42.5M37.5 464.37H42.5M40 491.78H42.5M40 484.87H42.5M40 479.97H42.5M40 476.17H42.5M40 473.07H42.5M40 470.44H42.5M40 468.17H42.5M40 466.16H42.5M37.5 503.58H42.5M40 530.99H42.5M40 524.09H42.5M40 519.19H42.5M40 515.39H42.5M40 512.28H42.5M40 509.66H42.5M40 507.38H42.5M40 505.38H42.5M37.5 542.8H42.5M42.35 542.8V545M71.5 542.8V547.3M100.65 542.8V545M129.8 542.8V547.3M158.95 542.8V545M188.1 542.8V547.3M217.25 542.8V545M246.4 542.8V547.3M275.55 542.8V545M304.7 542.8V547.3M333.85 542.8V545" stroke="#000" stroke-width="1.1" fill="none"/>
<g font-size="10.0"><text x="71.5" y="558.2" text-anchor="middle">-1.0</text><text x="129.8" y="558.2" text-anchor="middle">-0.5</text><text x="188.1" y="558.2" text-anchor="middle">0.0</text><text x="246.4" y="558.2" text-anchor="middle">0.5</text><text x="304.7" y="558.2" text-anchor="middle">1.0</text><text x="35" y="311.1" text-anchor="end">10<tspan font-size="7.0" dy="-4.1">-5</tspan></text><text x="35" y="350.32" text-anchor="end">10<tspan font-size="7.0" dy="-4.1">-6</tspan></text><text x="35" y="389.53" text-anchor="end">10<tspan font-size="7.0" dy="-4.1">-7</tspan></text><text x="35" y="428.75" text-anchor="end">10<tspan font-size="7.0" dy="-4.1">-8</tspan></text><text x="35" y="467.97" text-anchor="end">10<tspan font-size="7.0" dy="-4.1">-9</tspan></text><text x="35" y="507.18" text-anchor="end">10<tspan font-size="7.0" dy="-4.1">-10</tspan></text><text x="35" y="546.4" text-anchor="end">10<tspan font-size="7.0" dy="-4.1">-11</tspan></text></g>
<text x="196.95" y="577.3" text-anchor="middle" font-size="12">V (V)</text>
<text transform="translate(10.7 425.15) rotate(-90)" text-anchor="middle" font-size="12">I (A)</text>
<text x="193" y="329.9" font-size="18" text-anchor="middle">(<tspan dx="0.9">c</tspan><tspan dx="0.9">)</tspan></text>
<g font-size="12"><rect x="211.2" y="475.2" width="119.9" height="63.1" fill="#fff" stroke="#666" stroke-width="1"/><circle cx="226.7" cy="484.2" r="3.9" fill="#000"/><circle cx="226.7" cy="499.4" r="2.4" fill="#f00"/><path d="M213.2 515.3H238.2" stroke="#00f" stroke-width="2" stroke-dasharray="2.8 4.5"/><path d="M213.2 530.4H238.2" stroke="#008000" stroke-width="2" stroke-dasharray="2.8 4.5"/><text x="243.2" y="488.2">Exp. Data</text><text x="243.2" y="503.4" letter-spacing="0.2">Support Vectors</text><text x="243.2" y="518.6">SVR</text><text x="243.2" y="533.8">ANN</text></g></g>
<g><g fill="#000"><circle cx="419.6" cy="351" r="3.85"/><circle cx="423.08" cy="352.07" r="3.85"/><circle cx="426" cy="353.03" r="3.85"/><circle cx="428.91" cy="354.05" r="3.85"/><circle cx="431.82" cy="355.12" r="3.85"/><circle cx="434.73" cy="356.24" r="3.85"/><circle cx="437.4" cy="357.3" r="3.85"/><circle cx="440.56" cy="358.65" r="3.85"/><circle cx="443.47" cy="359.99" r="3.85"/><circle cx="446.38" cy="361.39" r="3.85"/><circle cx="449.3" cy="362.83" r="3.85"/><circle cx="452.21" cy="364.26" r="3.85"/><circle cx="455.2" cy="365.7" r="3.85"/><circle cx="458.03" cy="366.99" r="3.85"/><circle cx="460.94" cy="368.27" r="3.85"/><circle cx="463.86" cy="369.54" r="3.85"/><circle cx="466.77" cy="370.87" r="3.85"/><circle cx="469.68" cy="372.31" r="3.85"/><circle cx="472.4" cy="373.8" r="3.85"/><circle cx="475.51" cy="375.82" r="3.85"/><circle cx="478.42" cy="377.98" r="3.85"/><circle cx="481.33" cy="380.24" r="3.85"/><circle cx="483.9" cy="382.2" r="3.85"/><circle cx="487.16" cy="384.5" r="3.85"/><circle cx="490.07" cy="386.52" r="3.85"/><circle cx="492.98" cy="388.69" r="3.85"/><circle cx="495.8" cy="391.1" r="3.85"/><circle cx="498.81" cy="394.14" r="3.85"/><circle cx="501.72" cy="397.51" r="3.85"/><circle cx="504.63" cy="401.24" r="3.85"/><circle cx="507.55" cy="405.27" r="3.85"/><circle cx="510.3" cy="409.3" r="3.85"/><circle cx="513.37" cy="414.28" r="3.85"/><circle cx="516.28" cy="419.59" r="3.85"/><circle cx="518.6" cy="424.1" r="3.85"/><circle cx="522" cy="431.5" r="3.85"/><circle cx="524.6" cy="437.7" r="3.85"/><circle cx="527.2" cy="445.3" r="3.85"/><circle cx="530.7" cy="455.1" r="3.85"/><circle cx="533.3" cy="467" r="3.85"/><circle cx="536.4" cy="485.2" r="3.85"/><circle cx="539.2" cy="514.4" r="3.85"/><circle cx="542" cy="476.2" r="3.85"/><circle cx="545.1" cy="462.2" r="3.85"/><circle cx="548.1" cy="452.5" r="3.85"/><circle cx="550.7" cy="444.8" r="3.85"/><circle cx="553.8" cy="437.7" r="3.85"/><circle cx="557.06" cy="431.18" r="3.85"/><circle cx="559.5" cy="426.7" r="3.85"/><circle cx="562.88" cy="420.87" r="3.85"/><circle cx="565.79" cy="416.11" r="3.85"/><circle cx="568.71" cy="411.61" r="3.85"/><circle cx="571.1" cy="408.1" r="3.85"/><circle cx="574.53" cy="403.32" r="3.85"/><circle cx="577.45" cy="399.47" r="3.85"/><circle cx="580.36" cy="395.78" r="3.85"/><circle cx="583.27" cy="392.25" r="3.85"/><circle cx="585.8" cy="389.3" r="3.85"/><circle cx="589.1" cy="385.69" r="3.85"/><circle cx="592.01" cy="382.69" r="3.85"/><circle cx="594.92" cy="379.74" r="3.85"/><circle cx="597.4" cy="377.2" r="3.85"/><circle cx="600.75" cy="373.73" r="3.85"/><circle cx="603.66" cy="370.72" r="3.85"/><circle cx="606.57" cy="367.69" r="3.85"/><circle cx="609.4" cy="364.7" r="3.85"/><circle cx="612.39" cy="361.44" r="3.85"/><circle cx="615.31" cy="358.22" r="3.85"/><circle cx="617.8" cy="355.5" r="3.85"/><circle cx="621.13" cy="351.9" r="3.85"/><circle cx="624.04" cy="348.76" r="3.85"/><circle cx="626.96" cy="345.65" r="3.85"/><circle cx="629.87" cy="342.59" r="3.85"/><circle cx="632.4" cy="340" r="3.85"/><circle cx="635.7" cy="336.71" r="3.85"/><circle cx="638.61" cy="333.88" r="3.85"/><circle cx="641.52" cy="331.08" r="3.85"/><circle cx="644.43" cy="328.32" r="3.85"/><circle cx="647.1" cy="325.8" r="3.85"/><circle cx="650" cy="323.1" r="3.85"/></g>
<g fill="#f00"><circle cx="419.6" cy="351" r="2.6"/><circle cx="437.4" cy="357.3" r="2.6"/><circle cx="455.2" cy="365.7" r="2.6"/><circle cx="472.4" cy="373.8" r="2.6"/><circle cx="483.9" cy="382.2" r="2.6"/><circle cx="495.8" cy="391.1" r="2.6"/><circle cx="510.3" cy="409.3" r="2.6"/><circle cx="518.6" cy="424.1" r="2.6"/><circle cx="527.2" cy="445.3" r="2.6"/><circle cx="533.3" cy="467" r="2.6"/><circle cx="536.4" cy="485.2" r="2.6"/><circle cx="539.2" cy="514.4" r="2.6"/><circle cx="542" cy="476.2" r="2.6"/><circle cx="545.1" cy="462.2" r="2.6"/><circle cx="548.1" cy="452.5" r="2.6"/><circle cx="553.8" cy="437.7" r="2.6"/><circle cx="559.5" cy="426.7" r="2.6"/><circle cx="571.1" cy="408.1" r="2.6"/><circle cx="585.8" cy="389.3" r="2.6"/><circle cx="597.4" cy="377.2" r="2.6"/><circle cx="609.4" cy="364.7" r="2.6"/><circle cx="617.8" cy="355.5" r="2.6"/><circle cx="632.4" cy="340" r="2.6"/><circle cx="647.1" cy="325.8" r="2.6"/></g>
<path d="M419.6 351.3 L423.08 352.37 L426 353.33 L428.91 354.35 L431.82 355.42 L434.73 356.54 L437.4 357.6 L440.56 358.95 L443.47 360.29 L446.38 361.69 L449.3 363.13 L452.21 364.56 L455.2 366 L458.03 367.29 L460.94 368.57 L463.86 369.84 L466.77 371.17 L469.68 372.61 L472.4 374.1 L475.51 376.12 L478.42 378.28 L481.33 380.54 L483.9 382.5 L487.16 384.8 L490.07 386.82 L492.98 388.99 L495.8 391.4 L498.81 394.44 L501.72 397.81 L504.63 401.54 L507.55 405.57 L510.3 409.6 L513.37 414.58 L516.28 419.89 L518.6 424.4 L522 431.8 L524.6 438 L527.2 445.6 L530.7 455.4 L533.3 462.3 L536.4 466.3 L539.2 467.3" fill="none" stroke="#00f" stroke-width="1.9" stroke-dasharray="2.3 3.6" stroke-dashoffset="0"/>
<path d="M539.2 467.3 L542 465.3 L545.1 462.5 L548.1 452.8 L550.7 445.1 L553.8 438 L557.06 431.48 L559.5 427 L562.88 421.17 L565.79 416.41 L568.71 411.91 L571.1 408.4 L574.53 403.62 L577.45 399.77 L580.36 396.08 L583.27 392.55 L585.8 389.6 L589.1 385.99 L592.01 382.99 L594.92 380.04 L597.4 377.5 L600.75 374.03 L603.66 371.02 L606.57 367.99 L609.4 365 L612.39 361.74 L615.31 358.52 L617.8 355.8 L621.13 352.2 L624.04 349.06 L626.96 345.95 L629.87 342.89 L632.4 340.3 L635.7 337.01 L638.61 334.18 L641.52 331.38 L644.43 328.62 L647.1 326.1 L650 323.4" fill="none" stroke="#00f" stroke-width="1.9" stroke-dasharray="2.3 3.6" stroke-dashoffset="0"/>
<path d="M419.6 351.01 L423.08 352.1 L426 353.09 L428.91 354.13 L431.82 355.22 L434.73 356.35 L437.4 357.44 L440.56 358.81 L443.47 360.17 L446.38 361.59 L449.3 363.05 L452.21 364.51 L455.2 365.97 L458.03 367.28 L460.94 368.58 L463.86 369.87 L466.77 371.22 L469.68 372.68 L472.4 374.2 L475.51 376.24 L478.42 378.42 L481.33 380.71 L483.9 382.68 L487.16 385.15 L490.07 387.92 L492.98 390.84 L495.8 393.99 L498.81 397.78 L501.72 401.9 L504.63 406.57 L507.55 412.27 L510.3 417.1 L513.37 422.88 L516.28 428.25 L518.6 432.33 L522 439.07 L524.6 443.28 L527.2 448.07 L530.7 455.74 L533.3 462 L536.4 466 L539.2 467" fill="none" stroke="#008000" stroke-width="1.9" stroke-dasharray="2.3 3.6" stroke-dashoffset="0"/>
<path d="M539.2 467 L542 465 L545.1 462.2 L548.1 455.29 L550.7 450.25 L553.8 444.54 L557.06 439.19 L559.5 435.05 L562.88 429.05 L565.79 424.15 L568.71 419.44 L571.1 415.27 L574.53 409.27 L577.45 404.92 L580.36 400.74 L583.27 396.58 L585.8 392.88 L589.1 388.51 L592.01 385.08 L594.92 381.77 L597.4 378.86 L600.75 375.03 L603.66 371.71 L606.57 368.62 L609.4 365.57 L612.39 362.25 L615.31 358.97 L617.8 356.18 L621.13 352.52 L624.04 349.32 L626.96 346.15 L629.87 343.03 L632.4 340.38 L635.7 337.03 L638.61 334.13 L641.52 331.28 L644.43 328.45 L647.1 325.87 L650 323.11" fill="none" stroke="#008000" stroke-width="1.9" stroke-dasharray="2.3 3.6" stroke-dashoffset="0"/>
<rect x="393" y="306.9" width="291.5" height="235.4" fill="none" stroke="#000" stroke-width="1.1"/>
<path d="M388 306.9H393M390.5 339.81H393M390.5 331.52H393M390.5 325.64H393M390.5 321.07H393M390.5 317.34H393M390.5 314.19H393M390.5 311.46H393M390.5 309.05H393M388 353.98H393M390.5 386.89H393M390.5 378.6H393M390.5 372.72H393M390.5 368.15H393M390.5 364.42H393M390.5 361.27H393M390.5 358.54H393M390.5 356.13H393M388 401.06H393M390.5 433.97H393M390.5 425.68H393M390.5 419.8H393M390.5 415.23H393M390.5 411.5H393M390.5 408.35H393M390.5 405.62H393M390.5 403.21H393M388 448.14H393M390.5 481.05H393M390.5 472.76H393M390.5 466.88H393M390.5 462.31H393M390.5 458.58H393M390.5 455.43H393M390.5 452.7H393M390.5 450.29H393M388 495.22H393M390.5 528.13H393M390.5 519.84H393M390.5 513.96H393M390.5 509.39H393M390.5 505.66H393M390.5 502.51H393M390.5 499.78H393M390.5 497.37H393M388 542.3H393M393.38 542.3V544.5M422.5 542.3V546.8M451.62 542.3V544.5M480.75 542.3V546.8M509.88 542.3V544.5M539 542.3V546.8M568.12 542.3V544.5M597.25 542.3V546.8M626.38 542.3V544.5M655.5 542.3V546.8M684.62 542.3V544.5" stroke="#000" stroke-width="1.1" fill="none"/>
<g font-size="10.0"><text x="422.5" y="557.7" text-anchor="middle">-1.0</text><text x="480.75" y="557.7" text-anchor="middle">-0.5</text><text x="539" y="557.7" text-anchor="middle">0.0</text><text x="597.25" y="557.7" text-anchor="middle">0.5</text><text x="655.5" y="557.7" text-anchor="middle">1.0</text><text x="385.5" y="311" text-anchor="end">10<tspan font-size="7.0" dy="-4.1">-5</tspan></text><text x="385.5" y="358.08" text-anchor="end">10<tspan font-size="7.0" dy="-4.1">-6</tspan></text><text x="385.5" y="405.16" text-anchor="end">10<tspan font-size="7.0" dy="-4.1">-7</tspan></text><text x="385.5" y="452.24" text-anchor="end">10<tspan font-size="7.0" dy="-4.1">-8</tspan></text><text x="385.5" y="499.32" text-anchor="end">10<tspan font-size="7.0" dy="-4.1">-9</tspan></text><text x="385.5" y="546.4" text-anchor="end">10<tspan font-size="7.0" dy="-4.1">-10</tspan></text></g>
<text x="538.75" y="576.8" text-anchor="middle" font-size="12">V (V)</text>
<text transform="translate(360.7 424.6) rotate(-90)" text-anchor="middle" font-size="12">I (A)</text>
<text x="537.5" y="328.9" font-size="18" text-anchor="middle">(<tspan dx="0.9">d</tspan><tspan dx="0.9">)</tspan></text>
<g font-size="12"><rect x="559.5" y="474.3" width="120.2" height="63.6" fill="#fff" stroke="#666" stroke-width="1"/><circle cx="575" cy="483.3" r="3.9" fill="#000"/><circle cx="575" cy="498.5" r="2.4" fill="#f00"/><path d="M561.5 514.4H586.5" stroke="#00f" stroke-width="2" stroke-dasharray="2.8 4.5"/><path d="M561.5 529.5H586.5" stroke="#008000" stroke-width="2" stroke-dasharray="2.8 4.5"/><text x="592.1" y="487.3">Exp. Data</text><text x="592.1" y="502.5" letter-spacing="0.2">Support Vectors</text><text x="592.1" y="517.7">SVR</text><text x="592.1" y="532.9">ANN</text></g></g>
<g><g fill="#000"><circle cx="244" cy="673.8" r="3.85"/><circle cx="247.03" cy="674.31" r="3.85"/><circle cx="249.95" cy="674.87" r="3.85"/><circle cx="252.86" cy="675.48" r="3.85"/><circle cx="255.77" cy="676.14" r="3.85"/><circle cx="258.69" cy="676.84" r="3.85"/><circle cx="261.7" cy="677.6" r="3.85"/><circle cx="264.52" cy="678.36" r="3.85"/><circle cx="267.43" cy="679.22" r="3.85"/><circle cx="270.34" cy="680.15" r="3.85"/><circle cx="273.26" cy="681.13" r="3.85"/><circle cx="276.17" cy="682.17" r="3.85"/><circle cx="278.9" cy="683.2" r="3.85"/><circle cx="282" cy="684.44" r="3.85"/><circle cx="284.91" cy="685.69" r="3.85"/><circle cx="287.83" cy="687.03" r="3.85"/><circle cx="290.74" cy="688.44" r="3.85"/><circle cx="293.65" cy="689.92" r="3.85"/><circle cx="296.6" cy="691.5" r="3.85"/><circle cx="299.48" cy="693.14" r="3.85"/><circle cx="302.39" cy="694.93" r="3.85"/><circle cx="305.31" cy="696.85" r="3.85"/><circle cx="308.5" cy="699.1" r="3.85"/><circle cx="311.14" cy="701.09" r="3.85"/><circle cx="314.05" cy="703.47" r="3.85"/><circle cx="316.96" cy="706.02" r="3.85"/><circle cx="320.1" cy="709" r="3.85"/><circle cx="322.79" cy="711.7" r="3.85"/><circle cx="325.7" cy="714.77" r="3.85"/><circle cx="328.62" cy="718.12" r="3.85"/><circle cx="331.53" cy="721.83" r="3.85"/><circle cx="334.5" cy="726.1" r="3.85"/><circle cx="337.36" cy="731.38" r="3.85"/><circle cx="340.3" cy="737.5" r="3.85"/><circle cx="343.4" cy="743.8" r="3.85"/><circle cx="346.4" cy="750.9" r="3.85"/><circle cx="349.1" cy="757.7" r="3.85"/><circle cx="352" cy="766.4" r="3.85"/><circle cx="354.7" cy="775.1" r="3.85"/><circle cx="357.8" cy="785.3" r="3.85"/><circle cx="360.5" cy="800.6" r="3.85"/><circle cx="363.6" cy="827.7" r="3.85"/><circle cx="366.5" cy="791.7" r="3.85"/><circle cx="369.6" cy="776.4" r="3.85"/><circle cx="372.4" cy="764.8" r="3.85"/><circle cx="375.5" cy="754.6" r="3.85"/><circle cx="378.2" cy="745.3" r="3.85"/><circle cx="381.2" cy="736.6" r="3.85"/><circle cx="384.1" cy="730.4" r="3.85"/><circle cx="386.89" cy="724.59" r="3.85"/><circle cx="389.81" cy="718.58" r="3.85"/><circle cx="392.72" cy="712.92" r="3.85"/><circle cx="395.5" cy="708.1" r="3.85"/><circle cx="398.55" cy="703.44" r="3.85"/><circle cx="401.46" cy="699.34" r="3.85"/><circle cx="404.38" cy="695.52" r="3.85"/><circle cx="407.29" cy="691.92" r="3.85"/><circle cx="409.9" cy="688.8" r="3.85"/><circle cx="413.12" cy="685.06" r="3.85"/><circle cx="416.03" cy="681.82" r="3.85"/><circle cx="418.94" cy="678.82" r="3.85"/><circle cx="421.7" cy="676.3" r="3.85"/><circle cx="424.77" cy="673.95" r="3.85"/><circle cx="427.69" cy="672.01" r="3.85"/><circle cx="430.6" cy="670.08" r="3.85"/><circle cx="433.4" cy="668" r="3.85"/><circle cx="436.43" cy="665.27" r="3.85"/><circle cx="439.34" cy="662.41" r="3.85"/><circle cx="442.1" cy="659.9" r="3.85"/><circle cx="445.17" cy="657.48" r="3.85"/><circle cx="448.08" cy="655.35" r="3.85"/><circle cx="451" cy="653.29" r="3.85"/><circle cx="453.91" cy="651.2" r="3.85"/><circle cx="456.3" cy="649.4" r="3.85"/><circle cx="459.74" cy="646.56" r="3.85"/><circle cx="462.65" cy="644" r="3.85"/><circle cx="465.56" cy="641.44" r="3.85"/><circle cx="468.48" cy="639.03" r="3.85"/><circle cx="471.7" cy="636.7" r="3.85"/><circle cx="474.3" cy="635.2" r="3.85"/></g>
<g fill="#f00"><circle cx="244" cy="673.8" r="2.6"/><circle cx="261.7" cy="677.6" r="2.6"/><circle cx="278.9" cy="683.2" r="2.6"/><circle cx="296.6" cy="691.5" r="2.6"/><circle cx="308.5" cy="699.1" r="2.6"/><circle cx="320.1" cy="709" r="2.6"/><circle cx="334.5" cy="726.1" r="2.6"/><circle cx="343.4" cy="743.8" r="2.6"/><circle cx="352" cy="766.4" r="2.6"/><circle cx="357.8" cy="785.3" r="2.6"/><circle cx="360.5" cy="800.6" r="2.6"/><circle cx="363.6" cy="827.7" r="2.6"/><circle cx="366.5" cy="791.7" r="2.6"/><circle cx="369.6" cy="776.4" r="2.6"/><circle cx="372.4" cy="764.8" r="2.6"/><circle cx="378.2" cy="745.3" r="2.6"/><circle cx="384.1" cy="730.4" r="2.6"/><circle cx="395.5" cy="708.1" r="2.6"/><circle cx="409.9" cy="688.8" r="2.6"/><circle cx="421.7" cy="676.3" r="2.6"/><circle cx="433.4" cy="668" r="2.6"/><circle cx="442.1" cy="659.9" r="2.6"/><circle cx="456.3" cy="649.4" r="2.6"/><circle cx="471.7" cy="636.7" r="2.6"/></g>
<path d="M244 674.1 L247.03 674.61 L249.95 675.17 L252.86 675.78 L255.77 676.44 L258.69 677.14 L261.7 677.9 L264.52 678.66 L267.43 679.52 L270.34 680.45 L273.26 681.43 L276.17 682.47 L278.9 683.5 L282 684.74 L284.91 685.99 L287.83 687.33 L290.74 688.74 L293.65 690.22 L296.6 691.8 L299.48 693.44 L302.39 695.23 L305.31 697.15 L308.5 699.4 L311.14 701.39 L314.05 703.77 L316.96 706.32 L320.1 709.3 L322.79 712 L325.7 715.07 L328.62 718.42 L331.53 722.13 L334.5 726.4 L337.36 731.68 L340.3 737.8 L343.4 744.1 L346.4 751.2 L349.1 758 L352 766.7 L354.7 775.4 L357.8 785.6 L360.5 800.9 L363.6 797.3" fill="none" stroke="#00f" stroke-width="1.9" stroke-dasharray="2.3 3.6" stroke-dashoffset="0"/>
<path d="M363.6 797.3 L366.5 792 L369.6 776.7 L372.4 765.1 L375.5 754.9 L378.2 745.6 L381.2 736.9 L384.1 730.7 L386.89 724.89 L389.81 718.88 L392.72 713.22 L395.5 708.4 L398.55 703.74 L401.46 699.64 L404.38 695.82 L407.29 692.22 L409.9 689.1 L413.12 685.36 L416.03 682.12 L418.94 679.12 L421.7 676.6 L424.77 674.25 L427.69 672.31 L430.6 670.38 L433.4 668.3 L436.43 665.57 L439.34 662.71 L442.1 660.2 L445.17 657.78 L448.08 655.65 L451 653.59 L453.91 651.5 L456.3 649.7 L459.74 646.86 L462.65 644.3 L465.56 641.74 L468.48 639.33 L471.7 637 L474.3 635.5" fill="none" stroke="#00f" stroke-width="1.9" stroke-dasharray="2.3 3.6" stroke-dashoffset="0"/>
<path d="M244 673.8 L247.03 674.31 L249.95 674.87 L252.86 675.48 L255.77 676.14 L258.69 676.84 L261.7 677.6 L264.52 678.36 L267.43 679.22 L270.34 680.15 L273.26 681.13 L276.17 682.17 L278.9 683.2 L282 684.44 L284.91 685.69 L287.83 687.03 L290.74 688.44 L293.65 689.92 L296.6 691.5 L299.48 693.14 L302.39 694.93 L305.31 696.85 L308.5 699.1 L311.14 701.09 L314.05 703.47 L316.96 706.02 L320.1 709 L322.79 711.7 L325.7 714.77 L328.62 718.12 L331.53 721.83 L334.5 726.1 L337.36 731.38 L340.3 737.5 L343.4 743.8 L346.4 750.9 L349.1 757.7 L352 766.4 L354.7 775.1 L357.8 786 L360.5 789 L363.6 792" fill="none" stroke="#008000" stroke-width="1.9" stroke-dasharray="2.3 3.6" stroke-dashoffset="2.95"/>
<path d="M363.6 792 L366.5 787 L369.6 778 L372.4 764.8 L375.5 754.7 L378.2 745.9 L381.2 737.6 L384.1 731.4 L386.89 725.59 L389.81 719.58 L392.72 713.92 L395.5 709.1 L398.55 704.44 L401.46 700.34 L404.38 696.52 L407.29 692.92 L409.9 689.8 L413.12 686.06 L416.03 682.82 L418.94 679.82 L421.7 677.3 L424.77 674.95 L427.69 673.01 L430.6 671.08 L433.4 669 L436.43 666.27 L439.34 663.41 L442.1 660.9 L445.17 658.48 L448.08 656.35 L451 654.29 L453.91 652.2 L456.3 650.4 L459.74 647.56 L462.65 645 L465.56 642.44 L468.48 640.03 L471.7 637.7 L474.3 636.2" fill="none" stroke="#008000" stroke-width="1.9" stroke-dasharray="2.3 3.6" stroke-dashoffset="1.5"/>
<rect x="217.2" y="606.6" width="291.6" height="235.1" fill="none" stroke="#000" stroke-width="1.1"/>
<path d="M212.2 606.6H217.2M214.7 633.99H217.2M214.7 627.09H217.2M214.7 622.19H217.2M214.7 618.4H217.2M214.7 615.29H217.2M214.7 612.67H217.2M214.7 610.4H217.2M214.7 608.39H217.2M212.2 645.78H217.2M214.7 673.17H217.2M214.7 666.27H217.2M214.7 661.38H217.2M214.7 657.58H217.2M214.7 654.48H217.2M214.7 651.85H217.2M214.7 649.58H217.2M214.7 647.58H217.2M212.2 684.97H217.2M214.7 712.35H217.2M214.7 705.45H217.2M214.7 700.56H217.2M214.7 696.76H217.2M214.7 693.66H217.2M214.7 691.04H217.2M214.7 688.76H217.2M214.7 686.76H217.2M212.2 724.15H217.2M214.7 751.54H217.2M214.7 744.64H217.2M214.7 739.74H217.2M214.7 735.95H217.2M214.7 732.84H217.2M214.7 730.22H217.2M214.7 727.95H217.2M214.7 725.94H217.2M212.2 763.33H217.2M214.7 790.72H217.2M214.7 783.82H217.2M214.7 778.93H217.2M214.7 775.13H217.2M214.7 772.03H217.2M214.7 769.4H217.2M214.7 767.13H217.2M214.7 765.13H217.2M212.2 802.52H217.2M214.7 829.9H217.2M214.7 823H217.2M214.7 818.11H217.2M214.7 814.31H217.2M214.7 811.21H217.2M214.7 808.59H217.2M214.7 806.31H217.2M214.7 804.31H217.2M212.2 841.7H217.2M217.31 841.7V843.9M246.45 841.7V846.2M275.59 841.7V843.9M304.73 841.7V846.2M333.86 841.7V843.9M363 841.7V846.2M392.14 841.7V843.9M421.27 841.7V846.2M450.41 841.7V843.9M479.55 841.7V846.2M508.69 841.7V843.9" stroke="#000" stroke-width="1.1" fill="none"/>
<g font-size="10.0"><text x="246.45" y="857.1" text-anchor="middle">-1.0</text><text x="304.73" y="857.1" text-anchor="middle">-0.5</text><text x="363" y="857.1" text-anchor="middle">0.0</text><text x="421.27" y="857.1" text-anchor="middle">0.5</text><text x="479.55" y="857.1" text-anchor="middle">1.0</text><text x="209.7" y="611" text-anchor="end">10<tspan font-size="7.0" dy="-4.1">-4</tspan></text><text x="209.7" y="650.18" text-anchor="end">10<tspan font-size="7.0" dy="-4.1">-5</tspan></text><text x="209.7" y="689.37" text-anchor="end">10<tspan font-size="7.0" dy="-4.1">-6</tspan></text><text x="209.7" y="728.55" text-anchor="end">10<tspan font-size="7.0" dy="-4.1">-7</tspan></text><text x="209.7" y="767.73" text-anchor="end">10<tspan font-size="7.0" dy="-4.1">-8</tspan></text><text x="209.7" y="806.92" text-anchor="end">10<tspan font-size="7.0" dy="-4.1">-9</tspan></text><text x="209.7" y="846.1" text-anchor="end">10<tspan font-size="7.0" dy="-4.1">-10</tspan></text></g>
<text x="363" y="876.2" text-anchor="middle" font-size="12">V (V)</text>
<text transform="translate(185.5 724.15) rotate(-90)" text-anchor="middle" font-size="12">I (A)</text>
<text x="367.8" y="628.6" font-size="18" text-anchor="middle">(<tspan dx="0.9">e</tspan><tspan dx="0.9">)</tspan></text>
<g font-size="12"><rect x="385.2" y="773.9" width="120.3" height="63.4" fill="#fff" stroke="#666" stroke-width="1"/><circle cx="400.7" cy="782.9" r="3.9" fill="#000"/><circle cx="400.7" cy="798.1" r="2.4" fill="#f00"/><path d="M387.2 814H412.2" stroke="#00f" stroke-width="2" stroke-dasharray="2.8 4.5"/><path d="M387.2 829.1H412.2" stroke="#008000" stroke-width="2" stroke-dasharray="2.8 4.5"/><text x="418.4" y="786.9">Exp. Data</text><text x="418.4" y="802.1" letter-spacing="0.2">Support Vectors</text><text x="418.4" y="817.3">SVR</text><text x="418.4" y="832.5">ANN</text></g></g>
</svg>
</body></html>
